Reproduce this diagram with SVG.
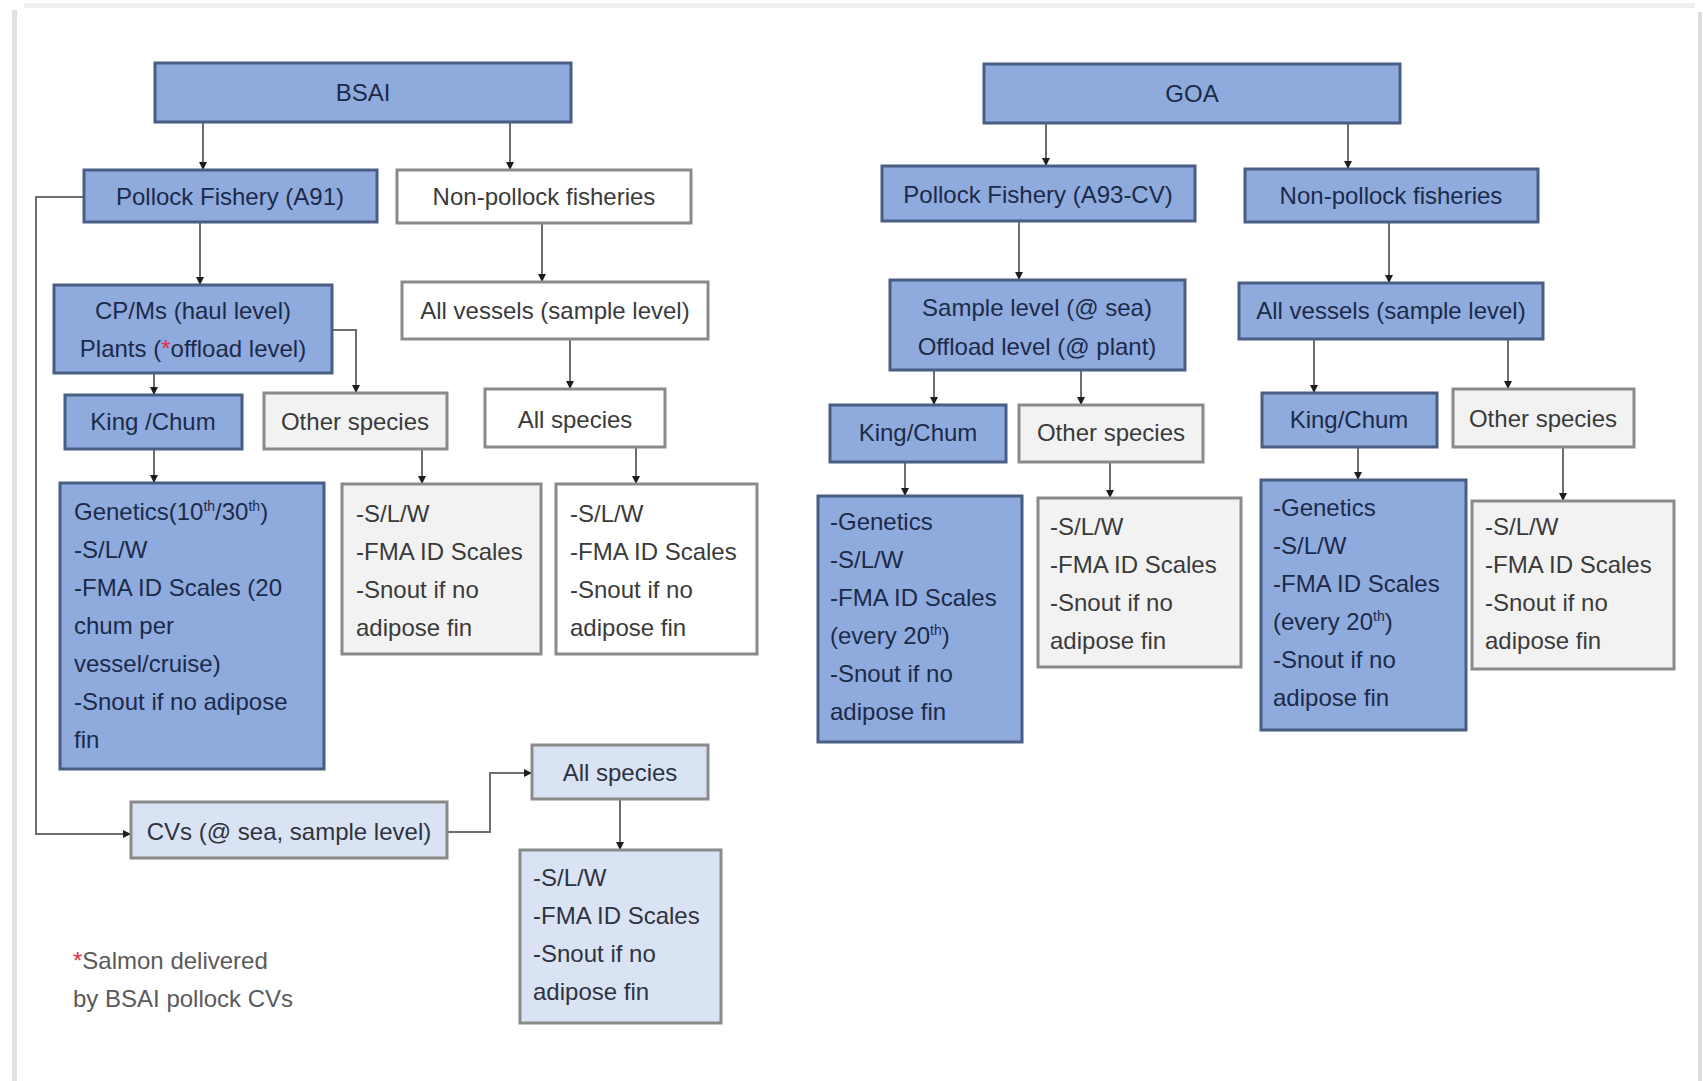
<svg xmlns="http://www.w3.org/2000/svg" width="1703" height="1081" viewBox="0 0 1703 1081">
<defs>
<style>
.t{font-family:"Liberation Sans",Arial,sans-serif;font-size:24px;}
.c{text-anchor:middle;}
.blue rect{fill:#8faadc;stroke:#4a5e85;stroke-width:3;}
.blue text{fill:#1c2a4a;}
.white rect{fill:#ffffff;stroke:#8a8a8a;stroke-width:3;}
.white text{fill:#3a3a3a;}
.gray rect{fill:#f2f2f2;stroke:#8a8a8a;stroke-width:3;}
.gray text{fill:#3a3a3a;}
.lblue rect{fill:#dae3f3;stroke:#8a8a8a;stroke-width:3;}
.lblue text{fill:#2e3340;}
.conn path{fill:none;stroke:#6e6e6e;stroke-width:2;marker-end:url(#ah);}
.red{fill:#e0304a;}
.sup{font-size:14px;}
</style>
<marker id="ah" markerUnits="userSpaceOnUse" markerWidth="10" markerHeight="10" refX="8" refY="4" orient="auto">
<path d="M0,0 L8,4 L0,8 z" fill="#1e1e1e"/>
</marker>
</defs>
<rect x="0" y="0" width="1703" height="1081" fill="#ffffff"/>
<rect x="24" y="3" width="1671" height="5" fill="#efefef"/>
<rect x="12" y="10" width="5" height="1071" fill="#e2e2e2"/>
<rect x="1698" y="12" width="4" height="1069" fill="#dcdcdc"/>

<g id="connectors" class="conn">
<path d="M203,123 V170"/>
<path d="M510,123 V170"/>
<path d="M200,222 V285"/>
<path d="M542,223 V282"/>
<path d="M154,373 V395"/>
<path d="M332,330 H356 V393"/>
<path d="M570,339 V389"/>
<path d="M84,197 H36 V834 H131"/>
<path d="M154,449 V483"/>
<path d="M422,449 V484"/>
<path d="M636,447 V484"/>
<path d="M447,832 H490 V773 H532"/>
<path d="M620,799 V850"/>
<path d="M1046,123 V166"/>
<path d="M1348,123 V169"/>
<path d="M1019,221 V280"/>
<path d="M1389,222 V283"/>
<path d="M934,370 V405"/>
<path d="M1081,370 V405"/>
<path d="M1314,339 V393"/>
<path d="M1508,339 V389"/>
<path d="M905,462 V496"/>
<path d="M1110,462 V498"/>
<path d="M1358,447 V480"/>
<path d="M1563,447 V501"/>
</g>

<g id="bsai" class="blue"><rect x="155" y="63" width="416" height="59"/><text class="t c" x="363" y="101">BSAI</text></g>
<g id="bsai-pollock" class="blue"><rect x="84" y="170" width="293" height="52"/><text class="t c" x="230" y="205">Pollock Fishery (A91)</text></g>
<g id="bsai-nonpollock" class="white"><rect x="397" y="170" width="294" height="53"/><text class="t c" x="544" y="205">Non-pollock fisheries</text></g>
<g id="bsai-cpms" class="blue"><rect x="54" y="285" width="278" height="88"/><text class="t c" x="193" y="319">CP/Ms (haul level)</text><text class="t c" x="193" y="357">Plants (<tspan class="red">*</tspan>offload level)</text></g>
<g id="bsai-allvessels" class="white"><rect x="402" y="282" width="306" height="57"/><text class="t c" x="555" y="319">All vessels (sample level)</text></g>
<g id="bsai-kingchum" class="blue"><rect x="65" y="395" width="177" height="54"/><text class="t c" x="153" y="430">King /Chum</text></g>
<g id="bsai-other" class="gray"><rect x="264" y="393" width="183" height="56"/><text class="t c" x="355" y="430">Other species</text></g>
<g id="bsai-allspecies" class="white"><rect x="485" y="389" width="180" height="58"/><text class="t c" x="575" y="428">All species</text></g>
<g id="bsai-genetics" class="blue"><rect x="60" y="483" width="264" height="286"/>
<text class="t" x="74" y="520">Genetics(10<tspan class="sup" dy="-9">th</tspan><tspan dy="9">/30</tspan><tspan class="sup" dy="-9">th</tspan><tspan dy="9">)</tspan></text>
<text class="t" x="74" y="558">-S/L/W</text>
<text class="t" x="74" y="596">-FMA ID Scales (20</text>
<text class="t" x="74" y="634">chum per</text>
<text class="t" x="74" y="672">vessel/cruise)</text>
<text class="t" x="74" y="710">-Snout if no adipose</text>
<text class="t" x="74" y="748">fin</text></g>
<g id="bsai-other-detail" class="gray"><rect x="342" y="484" width="199" height="170"/>
<text class="t" x="356" y="522">-S/L/W</text><text class="t" x="356" y="560">-FMA ID Scales</text><text class="t" x="356" y="598">-Snout if no</text><text class="t" x="356" y="636">adipose fin</text></g>
<g id="bsai-all-detail" class="white"><rect x="556" y="484" width="201" height="170"/>
<text class="t" x="570" y="522">-S/L/W</text><text class="t" x="570" y="560">-FMA ID Scales</text><text class="t" x="570" y="598">-Snout if no</text><text class="t" x="570" y="636">adipose fin</text></g>
<g id="bsai-cvs" class="lblue"><rect x="131" y="802" width="316" height="56"/><text class="t c" x="289" y="840">CVs (@ sea, sample level)</text></g>
<g id="bsai-cv-allspecies" class="lblue"><rect x="532" y="745" width="176" height="54"/><text class="t c" x="620" y="781">All species</text></g>
<g id="bsai-cv-detail" class="lblue"><rect x="520" y="850" width="201" height="173"/>
<text class="t" x="533" y="886">-S/L/W</text><text class="t" x="533" y="924">-FMA ID Scales</text><text class="t" x="533" y="962">-Snout if no</text><text class="t" x="533" y="1000">adipose fin</text></g>

<g id="footnote"><text class="t" x="73" y="969" fill="#5a5a5a"><tspan class="red">*</tspan>Salmon delivered</text><text class="t" x="73" y="1007" fill="#5a5a5a">by BSAI pollock CVs</text></g>

<g id="goa" class="blue"><rect x="984" y="64" width="416" height="59"/><text class="t c" x="1192" y="102">GOA</text></g>
<g id="goa-pollock" class="blue"><rect x="882" y="166" width="313" height="55"/><text class="t c" x="1038" y="203">Pollock Fishery (A93-CV)</text></g>
<g id="goa-nonpollock" class="blue"><rect x="1245" y="169" width="293" height="53"/><text class="t c" x="1391" y="204">Non-pollock fisheries</text></g>
<g id="goa-sample" class="blue"><rect x="890" y="280" width="295" height="90"/><text class="t c" x="1037" y="316">Sample level (@ sea)</text><text class="t c" x="1037" y="355">Offload level (@ plant)</text></g>
<g id="goa-allvessels" class="blue"><rect x="1239" y="283" width="304" height="56"/><text class="t c" x="1391" y="319">All vessels (sample level)</text></g>
<g id="goa-kingchum1" class="blue"><rect x="830" y="405" width="176" height="57"/><text class="t c" x="918" y="441">King/Chum</text></g>
<g id="goa-other1" class="gray"><rect x="1019" y="405" width="184" height="57"/><text class="t c" x="1111" y="441">Other species</text></g>
<g id="goa-kingchum2" class="blue"><rect x="1262" y="393" width="175" height="54"/><text class="t c" x="1349" y="428">King/Chum</text></g>
<g id="goa-other2" class="gray"><rect x="1453" y="389" width="181" height="58"/><text class="t c" x="1543" y="427">Other species</text></g>
<g id="goa-genetics1" class="blue"><rect x="818" y="496" width="204" height="246"/>
<text class="t" x="830" y="530">-Genetics</text><text class="t" x="830" y="568">-S/L/W</text><text class="t" x="830" y="606">-FMA ID Scales</text>
<text class="t" x="830" y="644">(every 20<tspan class="sup" dy="-9">th</tspan><tspan dy="9">)</tspan></text>
<text class="t" x="830" y="682">-Snout if no</text><text class="t" x="830" y="720">adipose fin</text></g>
<g id="goa-other1-detail" class="gray"><rect x="1038" y="498" width="203" height="169"/>
<text class="t" x="1050" y="535">-S/L/W</text><text class="t" x="1050" y="573">-FMA ID Scales</text><text class="t" x="1050" y="611">-Snout if no</text><text class="t" x="1050" y="649">adipose fin</text></g>
<g id="goa-genetics2" class="blue"><rect x="1261" y="480" width="205" height="250"/>
<text class="t" x="1273" y="516">-Genetics</text><text class="t" x="1273" y="554">-S/L/W</text><text class="t" x="1273" y="592">-FMA ID Scales</text>
<text class="t" x="1273" y="630">(every 20<tspan class="sup" dy="-9">th</tspan><tspan dy="9">)</tspan></text>
<text class="t" x="1273" y="668">-Snout if no</text><text class="t" x="1273" y="706">adipose fin</text></g>
<g id="goa-other2-detail" class="gray"><rect x="1472" y="501" width="202" height="168"/>
<text class="t" x="1485" y="535">-S/L/W</text><text class="t" x="1485" y="573">-FMA ID Scales</text><text class="t" x="1485" y="611">-Snout if no</text><text class="t" x="1485" y="649">adipose fin</text></g>
</svg>
